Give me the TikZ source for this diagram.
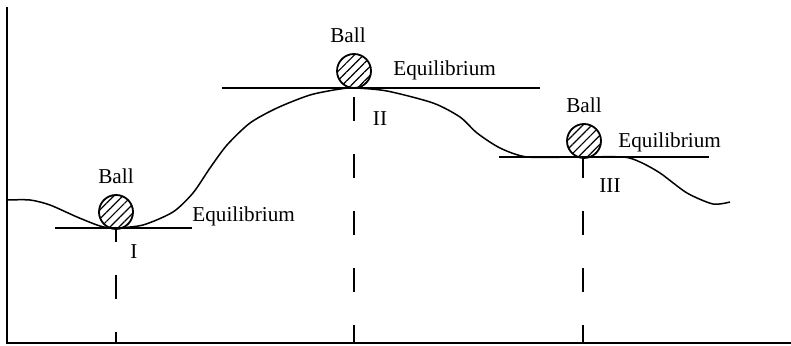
\documentclass[tikz,border=0pt]{standalone}
\usepackage{fontspec}
\setmainfont{Liberation Serif}
\usepackage{tikz}
\usetikzlibrary{positioning, patterns.meta}

\begin{document}
\begin{tikzpicture}[x=0.5pt,y=-0.5pt]
    \tikzset{lbl/.style={font=\fontsize{10.6}{12}\selectfont,inner sep=0pt},
      ball/.style={circle,draw,line width=0.9pt,minimum size=17pt,inner sep=0pt,
        pattern={Lines[angle=45,distance=3.2pt,line width=0.6pt]}},
      eq/.style={line width=0.8pt}, drop/.style={line width=0.8pt,dash pattern=on 12pt off 16.5pt,dash phase=3pt}}
    \useasboundingbox (0,0) rectangle (791,346);
    % axes
    \draw[line width=1pt] (7,7) -- (7,343) -- (791,343);
    % landscape
    \draw[line width=0.75pt] plot[smooth,tension=0.45] coordinates {(7,200) (30,200) (50,205) (77,217) (100,226) (115,228)
      (143,225) (173,212) (193,193) (210,168) (227,145) (250,123) (277,108)
      (310,95) (340,89) (355,88) (387,91) (433,103) (460,117) (477,133)
      (500,148) (527,157) (575,157) (623,157) (640,162) (660,173) (687,193) (713,204) (730,202)};
    % equilibrium lines
    \coordinate (e1) at (116,228); \coordinate (e2) at (354,88); \coordinate (e3) at (583,157);
    \draw[eq] (55,228) -- (192,228);
    \draw[eq] (222,88) -- (540,88);
    \draw[eq] (499,157) -- (709,157);
    % balls
    \node[ball] (b1) at (116,212) {};
    \node[ball] (b2) at (354,71) {};
    \node[ball] (b3) at (584,141) {};
    \node[lbl,above=5pt of b1] (t1) {Ball};
    \node[lbl,above=5pt of b2,xshift=-3pt] (t2) {Ball};
    \node[lbl,above=5pt of b3] (t3) {Ball};
    \node[lbl,anchor=west] (q1) at (192,216) {Equilibrium};
    \node[lbl,anchor=west] (q2) at (393,70) {Equilibrium};
    \node[lbl,anchor=west] (q3) at (618,142) {Equilibrium};
    \node[lbl] (r1) at (134,252) {I};
    \node[lbl] (r2) at (380,119) {II};
    \node[lbl] (r3) at (610,186) {III};
    % drop lines
    \coordinate (a1) at (116,343); \coordinate (a2) at (354,343); \coordinate (a3) at (583,343);
    \draw[drop,dash phase=6.5pt] (a1) -- (e1);
    \draw[drop] (a2) -- (e2);
    \draw[drop] (a3) -- (e3);
\end{tikzpicture}
\end{document}
